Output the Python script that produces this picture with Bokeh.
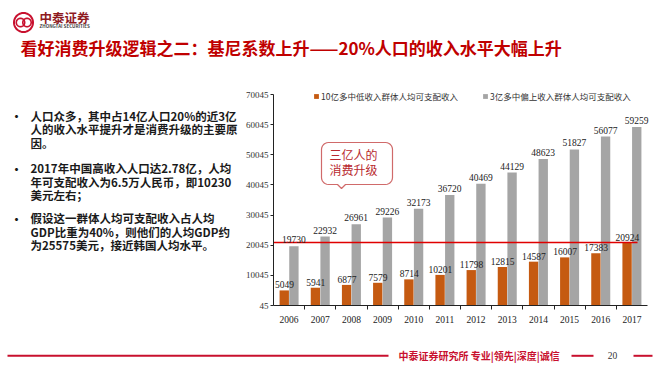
import math
from bokeh.plotting import figure
from bokeh.models import (Range1d, FixedTicker, ColumnDataSource, LabelSet, Label,
                          PolyAnnotation, Legend, LegendItem)
from bokeh.transform import dodge
from bokeh.embed import file_html
from bokeh.resources import INLINE
from bokeh.core.properties import value

# ---------------- data ----------------
years = ["2006", "2007", "2008", "2009", "2010", "2011",
         "2012", "2013", "2014", "2015", "2016", "2017"]
low_income = [5049, 5941, 6877, 7579, 8714, 10201, 11798, 12815, 14587, 16007, 17383, 20924]
upper_income = [19730, 22932, 26961, 29226, 32173, 36720, 40469, 44129, 48623, 51827, 56077, 59259]
y_ticks = [45, 10045, 20045, 30045, 40045, 50045, 60045, 70045]
series_names = ["10亿多中低收入群体人均可支配收入", "3亿多中偏上收入群体人均可支配收入"]
callout_lines = ["三亿人的", "消费升级"]
title_text = "看好消费升级逻辑之二：基尼系数上升——20%人口的收入水平大幅上升"
bullets = [
    ["人口众多，其中占14亿人口20%的近3亿", "人的收入水平提升才是消费升级的主要原", "因。"],
    ["2017年中国高收入人口达2.78亿，人均", "年可支配收入为6.5万人民币，即10230", "美元左右；"],
    ["假设这一群体人均可支配收入占人均", "GDP比重为40%，则他们的人均GDP约", "为25575美元，接近韩国人均水平。"],
]
brand_cn = "中泰证券"
brand_en = "ZHONGTAI SECURITIES"
footer_text = "中泰证券研究所 专业|领先|深度|诚信"
page_no = "20"

ORANGE = "#C55A11"
GRAY = "#A5A5A5"
RED = "#C00000"
CRIMSON = "#C8102E"
CJK = "Noto Sans CJK SC"
SERIF = "Liberation Serif"

W, H = 660, 378
# pixel box of the chart area on the page
CH_L, CH_R, CH_T, CH_B = 273, 647, 94, 305

n = len(years)
px_x = (CH_R - CH_L) / n
px_y = (CH_B - CH_T) / (y_ticks[-1] - y_ticks[0])
x_start = -0.5 - CH_L / px_x
x_end = n - 0.5 + (W - CH_R) / px_x
y_start = y_ticks[0] - (H - CH_B) / px_y
y_end = y_ticks[-1] + CH_T / px_y


def sx(X):
    return X


def sy(Y):
    return H - Y


idx = list(range(n))
src = ColumnDataSource(dict(
    x=idx, year=years, low=low_income, up=upper_income,
    low_t=[str(v) for v in low_income], up_t=[str(v) for v in upper_income],
))

p = figure(width=W, height=H, output_backend="svg", toolbar_location=None,
           title=None, x_range=Range1d(x_start, x_end), y_range=Range1d(y_start, y_end),
           min_border=0)
p.outline_line_color = None
p.grid.visible = False
p.background_fill_color = "white"
p.border_fill_color = "white"

r_low = p.vbar(x=dodge("x", -0.155), top="low", bottom=y_ticks[0], width=0.3,
               source=src, fill_color=ORANGE, line_color=None)
r_up = p.vbar(x=dodge("x", 0.155), top="up", bottom=y_ticks[0], width=0.3,
              source=src, fill_color=GRAY, line_color=None)

# red threshold line at the top of the low-income series
p.segment(x0=-0.5, x1=n - 1 + 0.18, y0=max(low_income), y1=max(low_income),
          line_color="#E00000", line_width=1.5)

p.add_layout(LabelSet(x=dodge("x", -0.145), y="low", text="low_t", source=src,
                      text_font=value(SERIF), text_font_size=value("9.5px"),
                      text_color="#222222", text_align="center", text_baseline="bottom",
                      y_offset=2))
p.add_layout(LabelSet(x=dodge("x", 0.155), y="up", text="up_t", source=src,
                      text_font=value(SERIF), text_font_size=value("9.5px"),
                      text_color="#222222", text_align="center", text_baseline="bottom",
                      y_offset=3))

# axes (drawn inside the full-canvas frame at fixed data locations)
p.yaxis.fixed_location = -0.5
p.yaxis.bounds = (y_ticks[0], y_ticks[-1])
p.yaxis.ticker = FixedTicker(ticks=y_ticks)
p.yaxis.major_tick_out = 3
p.yaxis.major_tick_in = 0
p.yaxis.minor_tick_out = 0
p.yaxis.minor_tick_in = 0
p.yaxis.major_label_standoff = 2
p.yaxis.major_label_text_font = SERIF
p.yaxis.major_label_text_font_size = "9px"
p.yaxis.major_label_text_color = "#333333"
p.yaxis.axis_line_color = "#222222"
p.yaxis.major_tick_line_color = "#222222"

p.xaxis.fixed_location = y_ticks[0]
p.xaxis.bounds = (-0.5, n - 0.5)
p.xaxis.ticker = FixedTicker(ticks=idx, minor_ticks=[i + 0.5 for i in idx[:-1]])
p.xaxis.major_label_overrides = {i: y for i, y in zip(idx, years)}
p.xaxis.major_tick_out = 0
p.xaxis.major_tick_in = 0
p.xaxis.minor_tick_out = 4
p.xaxis.minor_tick_in = 0
p.xaxis.major_label_standoff = 6
p.xaxis.major_label_text_font = SERIF
p.xaxis.major_label_text_font_size = "9.5px"
p.xaxis.major_label_text_color = "#222222"
p.xaxis.axis_line_color = "#222222"
p.xaxis.minor_tick_line_color = "#222222"

# legend
legend = Legend(items=[LegendItem(label=series_names[0], renderers=[r_low]),
                       LegendItem(label=series_names[1], renderers=[r_up])],
                location=(sx(313), sy(102)), orientation="horizontal",
                glyph_width=6, glyph_height=6, label_standoff=2, spacing=24,
                padding=0, margin=0, border_line_color=None, background_fill_alpha=0,
                label_text_font=CJK, label_text_font_size="8.5px",
                label_text_color="#333333", label_height=10)
p.add_layout(legend)


def add_text(X, Y, text, size, color, bold=False, font=CJK, align="left", baseline="middle"):
    p.add_layout(Label(x=sx(X), y=sy(Y), x_units="screen", y_units="screen", text=text,
                       text_font=font, text_font_size=f"{size}px", text_color=color,
                       text_font_style="bold" if bold else "normal",
                       text_align=align, text_baseline=baseline))


def add_poly(pts, fill=None, line=None, lw=1.0):
    p.add_layout(PolyAnnotation(xs=[sx(a) for a, b in pts], ys=[sy(b) for a, b in pts],
                                xs_units="screen", ys_units="screen",
                                fill_color=fill if fill else "white",
                                fill_alpha=1.0 if fill else 0.0,
                                line_color=line, line_alpha=1.0 if line else 0.0,
                                line_width=lw))


def circle_pts(cx, cy, r, k_n=48):
    return [(cx + r * math.cos(2 * math.pi * k / k_n), cy + r * math.sin(2 * math.pi * k / k_n))
            for k in range(k_n)]


def rect_pts(x0, y0, x1, y1):
    return [(x0, y0), (x1, y0), (x1, y1), (x0, y1)]


def callout_pts(x0, y0, x1, y1, r, px0, px1, tipx, tipy):
    pts = []

    def arc(cx, cy, a0, a1):
        for k in range(7):
            a = math.radians(a0 + (a1 - a0) * k / 6)
            pts.append((cx + r * math.cos(a), cy + r * math.sin(a)))
    arc(x0 + r, y0 + r, 180, 270)
    arc(x1 - r, y0 + r, 270, 360)
    arc(x1 - r, y1 - r, 0, 90)
    pts.extend([(px1, y1), (tipx, tipy), (px0, y1)])
    arc(x0 + r, y1 - r, 90, 180)
    return pts


add_poly(callout_pts(321, 142, 392, 184, 7, 337, 345, 341, 188), fill="white", line="#D06A6A", lw=1.2)
add_text(329, 153.5, callout_lines[0], 12, "#B8282E")
add_text(329, 168.5, callout_lines[1], 12, "#B8282E")

# header
add_poly(circle_pts(23, 22, 9.5), line=CRIMSON, lw=2)
add_poly(circle_pts(20, 22, 4.2), line=CRIMSON, lw=1.6)
add_poly(circle_pts(26.5, 22, 4.2), line=CRIMSON, lw=1.6)
add_text(39, 16.5, brand_cn, 12.5, "#8E1A1F", bold=True)
add_text(39, 25.5, brand_en, 4.5, "#444444", bold=True)
add_text(20, 47, title_text, 17, RED, bold=True)

# bullets
y0s = [115, 167.5, 217.5]
for y0, lines in zip(y0s, bullets):
    add_text(10, y0 + 1, "•", 12, "#1a1a1a", bold=True)
    for k, line in enumerate(lines):
        add_text(30, y0 + 13.5 * k, line, 11.5, "#1a1a1a", bold=True)

# footer
add_poly(rect_pts(7, 354.3, 388, 356.3), fill=CRIMSON)
add_text(398, 355, footer_text, 10, CRIMSON, bold=True)
add_poly(rect_pts(571, 354.3, 593, 356.3), fill=CRIMSON)
add_text(612, 355, page_no, 9.5, "#333333", font=SERIF, align="center")
add_poly(rect_pts(633, 354.3, 652, 356.3), fill=CRIMSON)

open("out.html", "w").write(file_html(p, INLINE))
